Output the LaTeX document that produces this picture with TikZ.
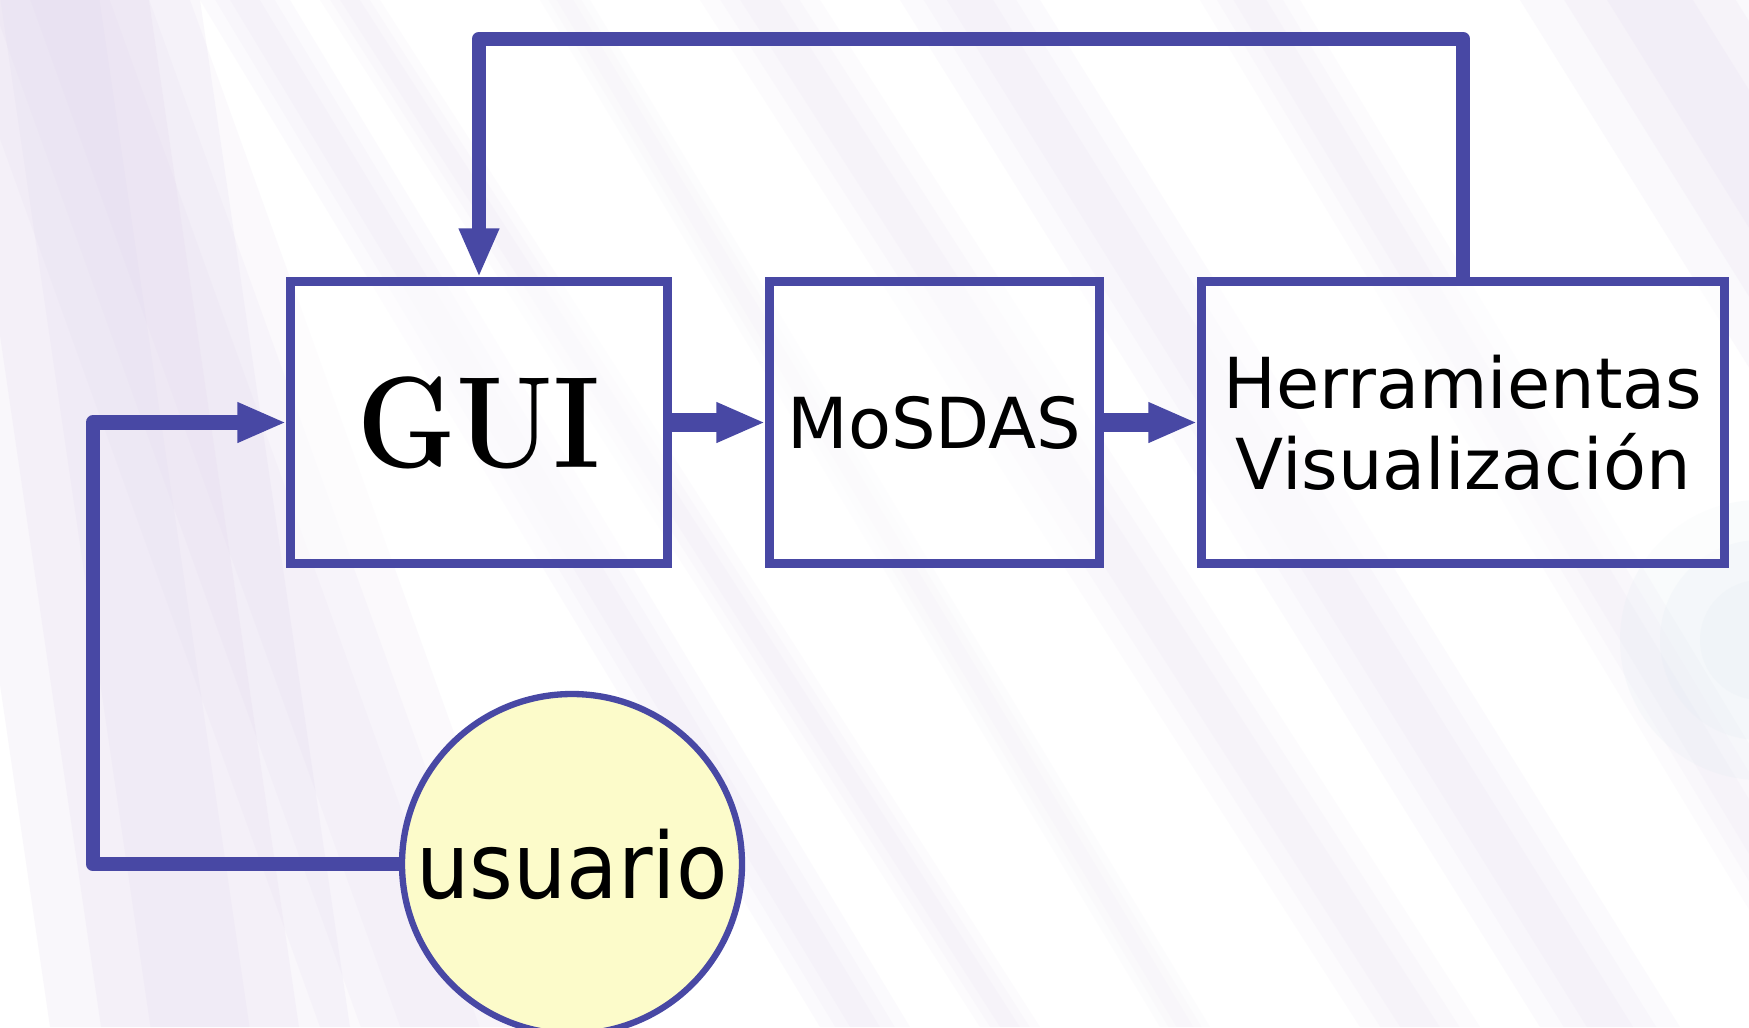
\documentclass[tikz,border=0pt]{standalone}
\usepackage{fontspec}
\newfontfamily\dejavu{DejaVu Sans}
\newfontfamily\dejavun{DejaVu Sans}[FakeStretch=0.92]
\usetikzlibrary{arrows.meta}
\definecolor{linec}{RGB}{72,72,164}
\definecolor{usuariofill}{RGB}{252,251,202}
\definecolor{lavender}{RGB}{222,210,236}
\definecolor{paleblue}{RGB}{225,235,242}
\begin{document}
\begin{tikzpicture}[
  box/.style={draw=linec, line width=2.3pt, fill=white, fill opacity=0.55, text opacity=1,
    minimum width=#1, minimum height=2.82cm, inner sep=0pt, align=center,
    font=\dejavu\fontsize{20}{23}\selectfont},
  conn/.style={draw=linec, line width=4.2pt, line join=round},
  flow/.style={draw=linec, line width=5.6pt, -{Triangle[length=4.9mm, width=3.7mm]}},
  tip/.style={-{Triangle[length=4.9mm, width=3.7mm]}}
]
\clip (0,0) rectangle (17.49,-10.27);
\fill[white] (0,0) rectangle (17.49,-10.27);
\foreach \xa/\xb/\w/\op in {-1/0.5/3.0/.5, -0.5/3.2/2.4/.35, 2.0/8.2/.9/.3, 3.2/9.8/.6/.25,
  7.0/13.6/1.2/.25, 9.0/15.4/1.4/.3, 5.4/11.6/.5/.2, 12.0/18.2/1.0/.25, 15.2/21.6/2.6/.4} {
 \foreach \s in {1,.66,.33}
  \fill[lavender, opacity=\op/3] (\xa+\w/2-\s*\w/2,0) -- (\xa+\w/2+\s*\w/2,0)
    -- (\xb+\w/2+\s*\w/2,-10.27) -- (\xb+\w/2-\s*\w/2,-10.27) -- cycle;
}
\foreach \r in {1.4,1.0,.6}
 \fill[paleblue, opacity=.2] (17.6,-6.4) circle (\r);
\node[box=3.77cm] (gui) at (4.79,-4.225) {\scalebox{0.86}[1]{\fontsize{37}{42}\bfseries\rmfamily GUI}};
\node[box=3.30cm] (mosdas) at (9.345,-4.225) {MoSDAS};
\node[box=5.23cm] (herr) at (14.63,-4.225) {Herramientas\\Visualización};
\node[circle, draw=linec, line width=1.8pt, fill=usuariofill, minimum size=3.4cm, inner sep=0pt,
  font=\dejavun\fontsize{26}{30}\selectfont] (usuario) at (5.72,-8.64) {usuario};
\coordinate (topbend) at (4.79,-0.39);
\coordinate (leftbend) at (0.93,-4.225);
\draw[flow] (gui.east) -- (mosdas.west);
\draw[flow] (mosdas.east) -- (herr.west);
\draw[conn, tip] (herr.north) |- (topbend) -- (gui.north);
\draw[conn, tip] (usuario.west) -| (leftbend) -- (gui.west);
\end{tikzpicture}
\end{document}
